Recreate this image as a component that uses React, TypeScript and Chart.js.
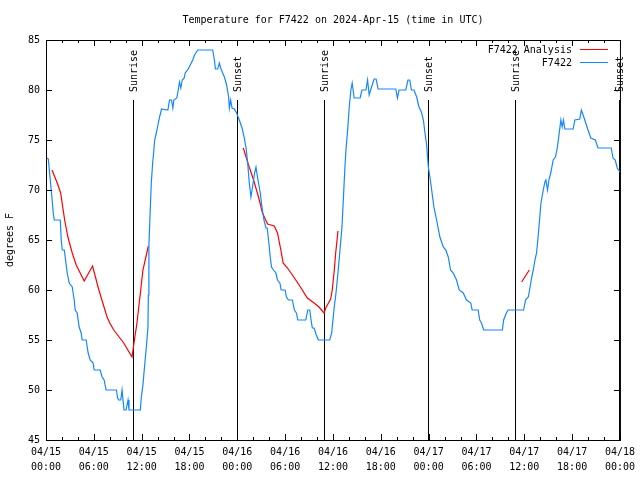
import React, { useEffect, useRef } from 'react';
import { Chart, registerables } from 'chart.js';

Chart.register(...registerables);

const chartTitle = 'Temperature for F7422 on 2024-Apr-15 (time in UTC)';
const yAxisTitle = 'degrees F';
const seriesNames = ['F7422 Analysis', 'F7422'];
const seriesColors = ['#ff0000', '#1487ff'];

const xTickHours = [0, 6, 12, 18, 24, 30, 36, 42, 48, 54, 60, 66, 72];
const xTickDates = ['04/15', '04/15', '04/15', '04/15', '04/16', '04/16', '04/16', '04/16', '04/17', '04/17', '04/17', '04/17', '04/18'];
const xTickTimes = ['00:00', '06:00', '12:00', '18:00', '00:00', '06:00', '12:00', '18:00', '00:00', '06:00', '12:00', '18:00', '00:00'];
const yTickValues = [45, 50, 55, 60, 65, 70, 75, 80, 85];

const sunEventLabels = ['Sunrise', 'Sunset', 'Sunrise', 'Sunset', 'Sunrise', 'Sunset'];
const sunEventHours = [10.9, 23.91, 34.9, 47.93, 58.79, 71.88];
const sunLineTopTemp = 79;

const observedHours = [
  0.13, 0.29, 0.75, 0.91, 1.04, 1.79, 1.91, 2.04, 2.29, 2.41, 2.66, 2.91, 3.29, 3.54, 3.66, 3.91, 4.16, 4.41, 4.54, 5.04,
  5.29, 5.54, 5.91, 6.04, 6.79, 7.04, 7.29, 7.54, 8.84, 8.96, 9.09, 9.38, 9.54, 9.66, 9.79, 10.04, 10.29, 10.41, 11.84, 11.96,
  12.16, 12.29, 12.46, 12.63, 12.79, 12.84, 12.91, 13.09, 13.21, 13.38, 13.5, 13.63, 13.84, 14.04, 14.25, 14.5, 15.29, 15.5, 15.75, 15.91,
  16.04, 16.41, 16.59, 16.75, 16.91, 17.09, 17.34, 17.46, 17.84, 18.09, 18.41, 18.63, 19.04, 20.91, 21.13, 21.25, 21.54, 21.75, 21.91, 22.16,
  22.38, 22.66, 22.91, 23.0, 23.16, 23.34, 23.63, 23.91, 24.25, 24.59, 24.88, 25.13, 25.34, 25.5, 25.71, 25.91, 26.16, 26.34, 26.59, 26.88,
  27.09, 27.34, 27.59, 27.75, 27.96, 28.13, 28.29, 28.54, 28.84, 29.04, 29.34, 29.5, 30.0, 30.16, 30.41, 30.91, 31.16, 31.41, 31.59, 32.59,
  32.84, 33.09, 33.25, 33.41, 33.63, 33.91, 34.16, 35.59, 35.84, 35.96, 36.16, 36.38, 36.66, 36.91, 37.13, 37.34, 37.5, 37.63, 37.84, 38.04,
  38.25, 38.41, 38.66, 39.41, 39.63, 40.13, 40.34, 40.54, 40.84, 41.16, 41.41, 41.66, 43.88, 44.09, 44.29, 45.13, 45.41, 45.63, 45.84, 46.16,
  46.5, 46.79, 47.09, 47.34, 47.54, 47.75, 47.96, 48.16, 48.38, 48.66, 49.0, 49.41, 49.84, 50.16, 50.46, 50.75, 51.09, 51.5, 51.84, 52.34,
  52.75, 53.29, 53.46, 54.21, 54.41, 54.63, 54.91, 57.25, 57.41, 57.75, 57.96, 59.91, 60.16, 60.5, 60.71, 60.91, 61.13, 61.34, 61.54, 61.66,
  61.84, 62.09, 62.38, 62.59, 62.71, 62.91, 63.09, 63.34, 63.63, 63.91, 64.16, 64.38, 64.59, 64.75, 64.91, 65.09, 66.13, 66.34, 66.96, 67.16,
  67.38, 67.59, 67.91, 68.34, 68.91, 69.25, 70.91, 71.13, 71.41, 71.66, 72.0,
];
const observedTemps = [
  73.2, 73.1, 69.2, 67.7, 67, 67, 65, 64, 64, 63.3, 61.7, 60.7, 60.3, 59, 58, 57.7, 56.3, 55.7, 55, 55,
  53.7, 53, 52.7, 52, 52, 51.3, 51, 50, 50, 49.3, 49, 49, 50, 49, 48, 48, 49, 48, 48, 49.3,
  50.5, 51.7, 53.2, 54.7, 56.3, 59.5, 64.5, 68.3, 70.7, 72.7, 73.7, 75, 75.7, 76.5, 77.3, 78.1, 78, 79, 79, 78.2,
  79, 79.2, 80, 80.8, 80.2, 81, 81.2, 81.7, 82.1, 82.5, 83, 83.5, 84, 84, 83, 82.1, 82.1, 82.7, 82.2, 81.7,
  81.3, 80.5, 79.3, 78.2, 79, 78.2, 78.1, 77.7, 77, 76.2, 75.2, 74, 72.3, 70.7, 69.3, 70.3, 71.7, 72.3, 71, 69.7,
  68.3, 67, 66.2, 66.2, 64.7, 63.3, 62.3, 62, 61.7, 61, 60.7, 60, 60, 59.3, 59, 59, 58, 57.7, 57, 57,
  58, 58, 57, 56.2, 56.2, 55.5, 55, 55, 55.7, 56.7, 58.3, 59.7, 62, 64.3, 66.3, 69.7, 72.3, 74, 76, 78.3,
  80, 80.7, 79.2, 79.2, 80, 80, 81, 79.5, 80.3, 81.1, 81.1, 80.1, 80.1, 79.2, 80, 80, 81, 81, 80, 80,
  79.3, 78.3, 77.8, 77, 75.7, 74.5, 72.3, 71.3, 70, 68.3, 67, 65.3, 64.3, 64, 63.3, 62, 61.7, 61, 60, 59.7,
  59, 58.7, 58, 58, 57, 56.7, 56, 56, 57, 57.7, 58, 58, 59, 59.3, 60.2, 61.2, 62, 63, 63.7, 64.7,
  66.3, 68.7, 70, 70.8, 71, 70, 71, 71.8, 73, 73.3, 74.3, 75.7, 77, 76.3, 77, 76.1, 76.1, 77, 77.1, 78,
  77.5, 77, 76.2, 75.2, 75, 74.2, 74.2, 73.2, 73, 72.2, 71.8,
];

const analysisHours = [
  0.75, 1.41, 1.84, 2.34, 2.75, 3.29, 3.79, 4.79, 5.84, 6.63, 7.66, 8.0, 8.5, 9.75, 10.79, 11.0, 11.41, 11.84, 12.16, 12.84,
  18,
  24.75, 25.41, 26.04, 26.66, 27.16, 27.79, 28.63, 29.04, 29.46, 29.75, 30.29, 30.91, 31.75, 32.79, 33.63, 34.25, 34.88, 35.09, 35.71,
  35.91, 36.13, 36.34, 36.63,
  48,
  59.66, 60.63,
];
const analysisTemps = [
  72, 70.7, 69.7, 67, 65.3, 63.7, 62.5, 60.9, 62.4, 60, 57.3, 56.7, 56, 54.7, 53.3, 54.5, 56.7, 59.7, 62, 64.4,
  null,
  74.2, 72.5, 71, 69.3, 67.7, 66.6, 66.4, 65.7, 64, 62.7, 62.2, 61.5, 60.5, 59.2, 58.7, 58.3, 57.7, 58.2, 59.1,
  60, 61.7, 63.7, 65.9,
  null,
  60.8, 62,
];

const FONT_FAMILY = '"DejaVu Sans Mono", "Liberation Mono", monospace';
const FONT_SIZE = 10;
const FONT = `${FONT_SIZE}px ${FONT_FAMILY}`;

const gnuplotDecor = {
  id: 'gnuplotDecor',
  beforeDatasetsDraw(chart: any) {
    const { ctx, chartArea, scales } = chart;
    const x = scales.x;
    const y = scales.y;
    const top = Math.round(y.getPixelForValue(sunLineTopTemp));
    ctx.save();
    ctx.strokeStyle = '#000';
    ctx.lineWidth = 1;
    ctx.font = FONT;
    ctx.fillStyle = '#000';
    sunEventHours.forEach((h, i) => {
      const px = Math.round(x.getPixelForValue(h)) + 0.5;
      ctx.beginPath();
      ctx.moveTo(px, top);
      ctx.lineTo(px, chartArea.bottom);
      ctx.stroke();
      ctx.save();
      ctx.translate(px + 1, top - 8);
      ctx.rotate(-Math.PI / 2);
      ctx.textAlign = 'left';
      ctx.textBaseline = 'middle';
      ctx.fillText(sunEventLabels[i], 0, 0);
      ctx.restore();
    });
    ctx.restore();
  },
  afterDraw(chart: any) {
    const { ctx, chartArea, scales } = chart;
    const x = scales.x;
    const y = scales.y;
    const { left, right, top, bottom } = chartArea;
    ctx.save();
    ctx.strokeStyle = '#000';
    ctx.lineWidth = 1;
    ctx.strokeRect(left + 0.5, top + 0.5, right - left, bottom - top);
    ctx.beginPath();
    // x ticks (major + minor every 2 h), inward on bottom and top
    for (let h = xTickHours[0]; h <= xTickHours[xTickHours.length - 1]; h += 2) {
      const px = Math.round(x.getPixelForValue(h)) + 0.5;
      const len = xTickHours.includes(h) ? 6 : 3;
      ctx.moveTo(px, bottom);
      ctx.lineTo(px, bottom - len);
      ctx.moveTo(px, top);
      ctx.lineTo(px, top + len);
    }
    // y ticks inward on left and right
    yTickValues.forEach((v) => {
      const py = Math.round(y.getPixelForValue(v)) + 0.5;
      ctx.moveTo(left, py);
      ctx.lineTo(left + 6, py);
      ctx.moveTo(right, py);
      ctx.lineTo(right - 6, py);
    });
    ctx.stroke();

    // legend (gnuplot style: text, then line sample)
    ctx.font = FONT;
    ctx.fillStyle = '#000';
    ctx.textAlign = 'right';
    ctx.textBaseline = 'middle';
    seriesNames.forEach((name, i) => {
      const ly = top + 10 + i * 13;
      ctx.fillText(name, right - 48, ly);
      ctx.strokeStyle = seriesColors[i];
      ctx.beginPath();
      ctx.moveTo(right - 40, Math.round(ly) - 0.5);
      ctx.lineTo(right - 12, Math.round(ly) - 0.5);
      ctx.stroke();
    });
    ctx.restore();
  },
};

export default function App() {
  const canvasRef = useRef<HTMLCanvasElement | null>(null);

  useEffect(() => {
    const canvas = canvasRef.current;
    if (!canvas) return;
    const chart = new Chart(canvas, {
      type: 'line',
      data: {
        datasets: [
          {
            label: seriesNames[1],
            data: observedHours.map((h, i) => ({ x: h, y: observedTemps[i] })),
            borderColor: seriesColors[1],
            backgroundColor: seriesColors[1],
            borderWidth: 1.2,
            pointRadius: 0,
            tension: 0,
            fill: false,
          },
          {
            label: seriesNames[0],
            data: analysisHours.map((h, i) => ({ x: h, y: analysisTemps[i] })),
            borderColor: seriesColors[0],
            backgroundColor: seriesColors[0],
            borderWidth: 1.2,
            pointRadius: 0,
            tension: 0,
            fill: false,
            spanGaps: false,
          },
        ],
      },
      options: {
        responsive: false,
        animation: false,
        events: [],
        layout: { padding: { left: 0, right: 18, top: 0, bottom: 0 } },
        plugins: {
          legend: { display: false },
          tooltip: { enabled: false },
          title: {
            display: true,
            text: chartTitle,
            fullSize: false,
            color: '#000',
            font: { family: FONT_FAMILY, size: FONT_SIZE, weight: 'normal', lineHeight: 1.2 },
            padding: { top: 14, bottom: 14 },
          },
        },
        scales: {
          x: {
            type: 'linear',
            min: xTickHours[0],
            max: xTickHours[xTickHours.length - 1],
            grid: { display: false, drawTicks: false },
            border: { display: false },
            afterBuildTicks: (scale: any) => {
              scale.ticks = xTickHours.map((v) => ({ value: v }));
            },
            afterFit: (scale: any) => {
              scale.height = 40;
            },
            ticks: {
              autoSkip: false,
              maxRotation: 0,
              minRotation: 0,
              padding: 5,
              color: '#000',
              font: { family: FONT_FAMILY, size: FONT_SIZE, lineHeight: 1.5 },
              callback: (value: any) => {
                const i = xTickHours.indexOf(Number(value));
                return i >= 0 ? [xTickDates[i], xTickTimes[i]] : '';
              },
            },
          },
          y: {
            type: 'linear',
            min: yTickValues[0],
            max: yTickValues[yTickValues.length - 1],
            grid: { display: false, drawTicks: false },
            border: { display: false },
            afterBuildTicks: (scale: any) => {
              scale.ticks = yTickValues.map((v) => ({ value: v }));
            },
            afterFit: (scale: any) => {
              scale.width = 46;
            },
            title: {
              display: true,
              text: yAxisTitle,
              color: '#000',
              font: { family: FONT_FAMILY, size: FONT_SIZE, lineHeight: 1.2 },
              padding: { top: 4, bottom: 0 },
            },
            ticks: {
              padding: 6,
              color: '#000',
              font: { family: FONT_FAMILY, size: FONT_SIZE },
              callback: (value: any) => String(value),
            },
          },
        },
      },
      plugins: [gnuplotDecor],
    } as any);
    return () => chart.destroy();
  }, []);

  return (
    <div style={{ position: 'fixed', left: 0, top: 0, width: 640, height: 480, background: '#fff' }}>
      <canvas ref={canvasRef} width={640} height={480} style={{ width: 640, height: 480, display: 'block' }} />
    </div>
  );
}
